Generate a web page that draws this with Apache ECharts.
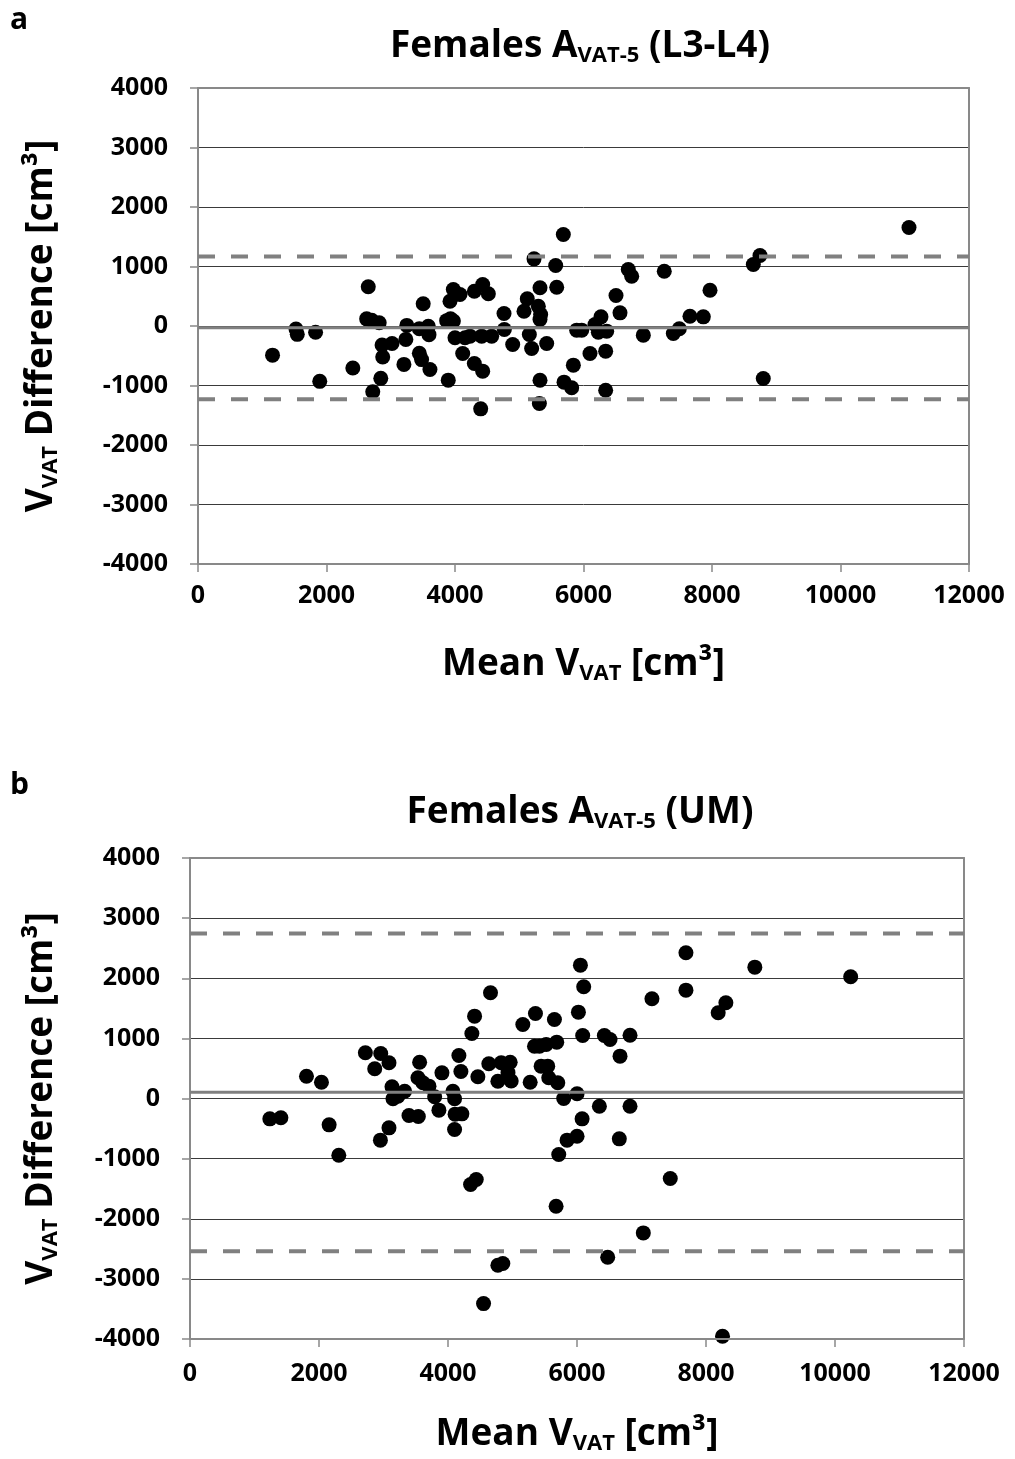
<!DOCTYPE html>
<html><head><meta charset="utf-8">
<script src="https://cdn.jsdelivr.net/npm/echarts@6/dist/echarts.min.js"></script>
<style>html,body{margin:0;padding:0;background:#fff}#c{width:1015px;height:1459px}</style>
</head><body><div id="c"></div>
<script>
// ---- data ----
const xMin = 0, xMax = 12000, xStep = 2000;
const yMin = -4000, yMax = 4000, yStep = 1000;
const xTickLabels = ['0','2000','4000','6000','8000','10000','12000'];
const yTickLabels = ['-4000','-3000','-2000','-1000','0','1000','2000','3000','4000'];

const titleA = 'Females A', titleASub = 'VAT-5', titleATail = ' (L3-L4)';
const titleB = 'Females A', titleBSub = 'VAT-5', titleBTail = ' (UM)';

const pointsA = [
  [1160,-490],[1525,-50],[1545,-140],[1830,-105],[1895,-930],[2410,-705],[2650,660],
  [2625,120],[2705,95],[2820,55],[2720,-1105],[2845,-880],[2865,-320],[2875,-520],
  [3020,-295],[3205,-645],[3235,-225],[3250,10],[3445,-460],[3480,-565],[3505,375],
  [3445,-45],[3585,-5],[3595,-145],[3610,-730],[3895,-910],[3870,90],[3930,120],[3975,85],
  [3922,417],[3974,613],[4078,529],[4000,-198],[4120,-462],[4156,-198],[4233,-171],
  [4301,585],[4301,-630],[4431,697],[4519,541],[4415,-171],[4571,-171],[4431,-759],
  [4400,-1392],[4763,210],[4768,-59],[4898,-311],[5125,457],[5074,249],[5297,333],
  [5333,193],[5323,109],[5157,-143],[5193,-378],[5230,1129],[5323,642],[5323,-911],
  [5313,-1303],[5427,-294],[5567,1017],[5583,652],[5686,1538],[5697,-944],[5816,-1039],
  [5842,-658],[5894,-70],[5972,-70],[6101,-462],[6179,25],[6272,154],[6231,-104],
  [6361,-87],[6345,-423],[6345,-1079],[6506,513],[6568,221],[6697,950],[6750,837],
  [6931,-154],[7257,921],[7398,-126],[7491,-47],[7657,165],[7865,154],[7969,600],
  [8643,1034],[8747,1185],[8798,-882],[11066,1655]
];
const meanA = -30, upperA = 1170, lowerA = -1230;

const pointsB = [
  [1238,-338],[1409,-321],[1806,371],[2038,271],[2157,-438],[2307,-943],[2719,760],
  [2864,494],[2957,749],[3085,594],[2952,-693],[3085,-488],[3132,195],[3147,-5],
  [3224,38],[3328,121],[3395,-283],[3540,-300],[3560,604],[3534,344],[3611,261],
  [3705,205],[3793,28],[3859,-194],[3906,427],[4076,121],[4102,-5],[4110,-260],
  [4215,-255],[4102,-516],[4169,715],[4200,450],[4370,1082],[4412,1370],[4463,361],
  [4350,-1431],[4438,-1348],[4659,1759],[4633,577],[4773,288],[4825,594],[4964,604],
  [4930,430],[4980,290],[5160,1231],[5274,271],[5356,1414],[5341,870],[5418,870],
  [5522,898],[5444,538],[5546,538],[5562,344],[5650,1314],[5686,937],[5702,261],
  [5794,0],[5717,-932],[5676,-1792],[5846,-693],[6001,-627],[6001,78],[6079,-338],
  [6022,1436],[6053,2218],[6104,1858],[6088,1048],[6424,1048],[6512,982],[6347,-128],
  [6667,704],[6822,1053],[6822,-128],[6656,-671],[7162,1659],[7446,-1331],[7689,2424],
  [7689,1802],[8757,2185],[10243,2025],[8308,1592],[8189,1426],[8256,-3955],[7028,-2235],
  [6476,-2640],[4773,-2774],[4850,-2745],[4551,-3411]
];
const meanB = 103, upperB = 2745, lowerB = -2540;

// ---- styles ----
const FONT = "'Open Sans', sans-serif";
const AXIS_GRAY = '#898989';
const GRID_DARK = '#3a3a3a';
const LINE_GRAY = '#808080';

function richSet(size, subSize, subShift, lh) {
  return {
    m: {fontFamily: FONT, fontWeight: 'bold', fontSize: size, color: '#000', lineHeight: lh},
    s: {fontFamily: FONT, fontWeight: 'bold', fontSize: subSize, color: '#000', lineHeight: lh, padding: [subShift*2, 0, 0, 0]}
  };
}
function richText(a, sub, tail) { return '{m|' + a + '}{s|' + sub + '}{m|' + tail + '}'; }

const labelStyle = {fontFamily: FONT, fontWeight: 'bold', fontSize: 25, color: '#000'};

function xAxes(gi, margin, gap) {
  return [
    {
      gridIndex: gi, type: 'value', min: xMin, max: xMax, interval: xStep, z: 3,
      axisLine: {show: true, onZero: false, lineStyle: {color: AXIS_GRAY, width: 2}},
      axisTick: {show: true, inside: false, length: 8, lineStyle: {color: AXIS_GRAY, width: 1.5}},
      axisLabel: Object.assign({margin: margin, formatter: (v) => xTickLabels[Math.round((v - xMin) / xStep)]}, labelStyle),
      splitLine: {show: false},
      name: richText('Mean V', 'VAT', ' [cm\u00B3]'), nameLocation: 'middle', nameGap: gap,
      nameTextStyle: {rich: richSet(37, 22, 10, 44)}
    },
    {
      gridIndex: gi, type: 'value', position: 'top', min: xMin, max: xMax, interval: xStep, z: 3,
      axisLine: {show: true, onZero: false, lineStyle: {color: AXIS_GRAY, width: 2}},
      axisTick: {show: false}, axisLabel: {show: false}, splitLine: {show: false}
    }
  ];
}
function yAxes(gi, gap) {
  return [
    {
      gridIndex: gi, type: 'value', min: yMin, max: yMax, interval: yStep,
      axisLine: {show: true, onZero: false, lineStyle: {color: AXIS_GRAY, width: 2}},
      axisTick: {show: true, inside: false, length: 8, lineStyle: {color: AXIS_GRAY, width: 1.5}},
      axisLabel: Object.assign({margin: 30, formatter: (v) => yTickLabels[Math.round((v - yMin) / yStep)]}, labelStyle),
      splitLine: {show: true, lineStyle: {color: GRID_DARK, width: 1}},
      name: richText('V', 'VAT', ' Difference [cm\u00B3]'), nameLocation: 'middle', nameGap: gap, nameRotate: 90,
      nameTextStyle: {rich: richSet(37, 22, 10, 44)}
    },
    {
      gridIndex: gi, type: 'value', position: 'right', min: yMin, max: yMax, interval: yStep, z: 3,
      axisLine: {show: true, onZero: false, lineStyle: {color: AXIS_GRAY, width: 2}},
      axisTick: {show: false}, axisLabel: {show: false}, splitLine: {show: false}
    }
  ];
}
function seriesFor(idxX, idxY, pts, mean, up, lo) {
  const hl = (v) => [[xMin, v], [xMax, v]];
  return [
    {type: 'scatter', xAxisIndex: idxX, yAxisIndex: idxY, data: pts, symbol: 'circle', symbolSize: 15,
     itemStyle: {color: '#000', opacity: 1}, silent: true, z: 2},
    {type: 'line', xAxisIndex: idxX, yAxisIndex: idxY, data: hl(mean), symbol: 'none', silent: true, z: 3,
     lineStyle: {color: LINE_GRAY, width: 3, type: 'solid'}},
    {type: 'line', xAxisIndex: idxX, yAxisIndex: idxY, data: hl(up), symbol: 'none', silent: true, z: 3,
     lineStyle: {color: LINE_GRAY, width: 4, type: [17, 16]}},
    {type: 'line', xAxisIndex: idxX, yAxisIndex: idxY, data: hl(lo), symbol: 'none', silent: true, z: 3,
     lineStyle: {color: LINE_GRAY, width: 4, type: [17, 16]}}
  ];
}

const chart = echarts.init(document.getElementById('c'), null, {renderer: 'canvas'});
const titleRich = richSet(37, 22, 10, 44);
chart.setOption({
  animation: false,
  backgroundColor: '#fff',
  title: [
    {text: 'a', left: 10, top: 5, padding: 0, textStyle: {fontFamily: FONT, fontWeight: 'bold', fontSize: 30, color: '#000'}},
    {text: 'b', left: 10, top: 770, padding: 0, textStyle: {fontFamily: FONT, fontWeight: 'bold', fontSize: 30, color: '#000'}},
    {text: richText(titleA, titleASub, titleATail), left: 580, textAlign: 'center', top: 24, padding: 0, textStyle: {rich: titleRich}},
    {text: richText(titleB, titleBSub, titleBTail), left: 580, textAlign: 'center', top: 790, padding: 0, textStyle: {rich: titleRich}}
  ],
  grid: [
    {left: 198, top: 88, width: 771, height: 476, containLabel: false},
    {left: 190, top: 858, width: 774, height: 481, containLabel: false}
  ],
  xAxis: [].concat(xAxes(0, 19, 78), xAxes(1, 22, 73)),
  yAxis: [].concat(yAxes(0, 135), yAxes(1, 127)),
  series: [].concat(
    seriesFor(0, 0, pointsA, meanA, upperA, lowerA),
    seriesFor(2, 2, pointsB, meanB, upperB, lowerB)
  )
});
</script>
</body></html>
